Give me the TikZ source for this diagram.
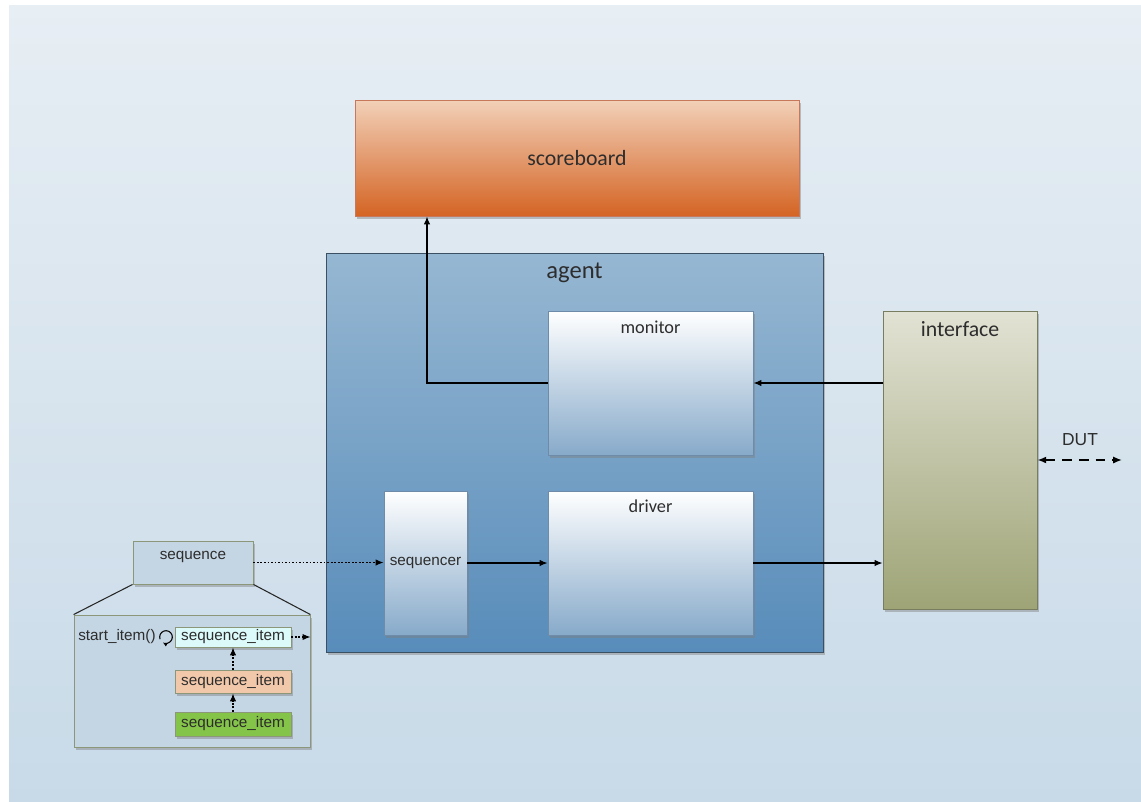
\documentclass[tikz,border=0pt]{standalone}
\usepackage{fontspec}
\setmainfont{Carlito}
\newfontfamily\arialf{Liberation Sans}
\usetikzlibrary{arrows.meta,fit,shadows,calc}

\definecolor{bgtop}{RGB}{231,238,244}
\definecolor{bgbot}{RGB}{200,218,232}
\definecolor{sbtop}{RGB}{242,208,184}
\definecolor{sbmid}{RGB}{230,170,132}
\definecolor{sbbot}{RGB}{212,100,36}
\definecolor{sbline}{RGB}{200,120,90}
\definecolor{agtop}{RGB}{150,183,210}
\definecolor{agbot}{RGB}{88,140,186}
\definecolor{agline}{RGB}{60,80,100}
\definecolor{cmpbot}{RGB}{135,170,202}
\definecolor{cmpline}{RGB}{110,140,170}
\definecolor{iftop}{RGB}{226,226,212}
\definecolor{ifbot}{RGB}{158,164,118}
\definecolor{ifline}{RGB}{120,125,95}
\definecolor{seqfill}{RGB}{196,213,228}
\definecolor{seqline}{RGB}{140,150,120}
\definecolor{itcyan}{RGB}{220,250,250}
\definecolor{itsalmon}{RGB}{242,200,170}
\definecolor{itgreen}{RGB}{132,196,72}
\definecolor{txt}{RGB}{45,45,45}

\begin{document}
\begin{tikzpicture}[x=0.02cm,y=-0.02cm,
  shadowed/.style={drop shadow={shadow xshift=1.4pt,shadow yshift=-1.6pt,opacity=0.45}},
  block/.style={inner sep=0pt,line width=0.5pt,shadowed},
  comp/.style={block,draw=cmpline,top color=white,bottom color=cmpbot},
  item/.style={block,draw=seqline,fill=#1},
  bigtext/.style={font=\fontsize{12.4pt}{14pt}\selectfont,text=txt},
  midtext/.style={font=\fontsize{10.4pt}{12pt}\selectfont,text=txt},
  smalltext/.style={font=\arialf\fontsize{8.7pt}{10pt}\selectfont,text=txt},
  arr/.style={line width=0.6pt,-{Latex[length=4.5pt,width=3.6pt]}},
  dotarr/.style={arr,dash pattern=on 1pt off 1pt}]

\useasboundingbox (0,0) rectangle (1141,801);
\fill[white] (0,0) rectangle (1141,801);
\shade[top color=bgtop,bottom color=bgbot] (9,5) rectangle (1141,801);

% scoreboard
\node[block,draw=sbline,top color=sbtop,middle color=sbmid,bottom color=sbbot,
      fit={(355,100) (799,216)}] (sb) {};
\node[bigtext] at (sb.center) {scoreboard};

% agent with its components
\node[block,draw=agline,top color=agtop,bottom color=agbot,fit={(326,253) (823,652)}] (ag) {};
\node[font=\fontsize{14pt}{16pt}\selectfont,text=txt] at ($(ag.north)+(0,20)$) {agent};

\node[comp,fit={(548,311) (753,455)}] (mon) {};
\node[midtext] at ($(mon.north)+(0,17)$) {monitor};

\node[comp,fit={(548,491) (753,635)}] (drv) {};
\node[midtext] at ($(drv.north)+(0,16)$) {driver};

\node[comp,fit={(384,491) (467,635)}] (sqr) {};
\node[smalltext] at (sqr.center) {sequencer};

% interface
\node[block,draw=ifline,top color=iftop,bottom color=ifbot,fit={(883,311) (1037,609)}] (ifc) {};
\node[bigtext] at ($(ifc.north)+(0,19)$) {interface};

% sequence and its expansion
\node[block,draw=seqline,fill=seqfill,fit={(133,541) (253,584)}] (seq) {};
\node[smalltext] at ($(seq.north)+(0,16)$) {sequence};

\node[block,draw=seqline,fill=seqfill,fit={(74,615) (310,747)}] (exp) {};
\draw[line width=0.6pt,black!85] (seq.south west) -- (exp.north west);
\draw[line width=0.6pt,black!85] (seq.south east) -- (exp.north east);

\node[item=itcyan,fit={(175,627) (291,647)}] (i1) {};
\node[smalltext] at (i1.center) {sequence\_item};
\node[item=itsalmon,fit={(175,670) (291,693)}] (i2) {};
\node[smalltext] at (i2.center) {sequence\_item};
\node[item=itgreen,fit={(175,712) (291,736)}] (i3) {};
\node[smalltext] at (i3.center) {sequence\_item};

\node[smalltext,anchor=west,inner sep=0pt] (st) at (78,637) {start\_item()};
\coordinate (loop) at (166,637);
\draw[line width=0.6pt,-{Latex[length=2.6pt,width=2.4pt]}]
  ($(loop)+(200:3.6pt)$) arc[start angle=200,end angle=-120,radius=3.6pt];

\draw[dotarr] (i3.north) -- (i2.south);
\draw[dotarr] (i2.north) -- (i1.south);
\draw[dotarr] (i1.east) -- (i1.east -| exp.east);

% connections
\coordinate (up) at (427,0);
\draw[arr] (mon.west) -| (up |- sb.south);
\draw[arr] (ifc.west |- mon.east) -- (mon.east);
\draw[arr] (drv.east |- sqr.east) -- (drv.east -| ifc.west);
\draw[arr] (sqr.east) -- (drv.west |- sqr.east);
\draw[dotarr] (seq.east) -- (seq.east -| sqr.west);

\coordinate (dutend) at (1122,460);
\draw[line width=0.9pt,dash pattern=on 5.5pt off 4pt,
      {Latex[length=5pt,width=4pt]}-{Latex[length=5pt,width=4pt]}] (ifc.east |- dutend) -- (dutend);
\node[font=\arialf\fontsize{9.9pt}{11pt}\selectfont,text=txt] (dut) at (1080,440) {DUT};
\end{tikzpicture}
\end{document}
